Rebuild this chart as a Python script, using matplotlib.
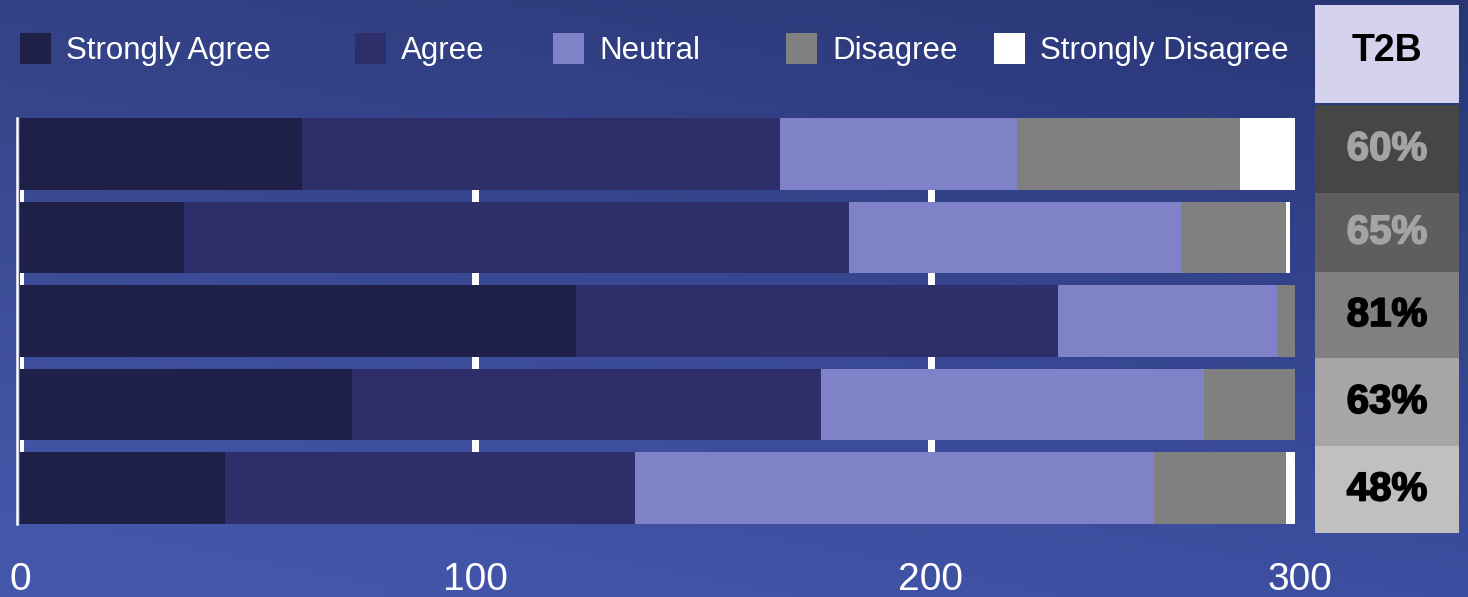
import numpy as np
import matplotlib.pyplot as plt
import matplotlib.patheffects as pe
from matplotlib.patches import Rectangle
from matplotlib.transforms import ScaledTranslation

plt.rcParams['font.family'] = ['Liberation Sans', 'DejaVu Sans']

# response counts per question (stacked left to right)
series_names = ['Strongly Agree', 'Agree', 'Neutral', 'Disagree', 'Strongly Disagree']
strongly_agree = [62, 36, 122, 73, 45]
agree = [105, 146, 106, 103, 90]
neutral = [52, 73, 48, 84, 114]
disagree = [49, 23, 4, 20, 29]
strongly_disagree = [12, 1, 0, 0, 2]
x_ticks = [0, 100, 200]
x_tick_labels = ['0', '100', '200']
x_end_label = '300'

series = [strongly_agree, agree, neutral, disagree, strongly_disagree]
colors = ['#1E2048', '#2E2F6A', '#7F82C6', '#808080', '#FFFFFF']

cell_colors = ['#464646', '#5E5E5E', '#808080', '#A6A6A6', '#C0C0C0']
cell_text_colors = ['#A4A4A4', '#A4A4A4', '#000000', '#000000', '#000000']

W, H = 1468, 597
fig = plt.figure(figsize=(W / 100, H / 100), dpi=100)

# gradient backdrop
bg = fig.add_axes([0, 0, 1, 1], zorder=0)
yy, xx = np.mgrid[0:1:200j, 0:1:400j]
top = np.array([48, 62, 126]) / 255
bottom = np.array([70, 88, 172]) / 255
t = np.clip(yy * 0.9 + (1 - xx) * 0.15, 0, 1)[..., None]
img = top * (1 - t) + bottom * t
img = img - (xx[..., None] * 0.03)
bg.imshow(np.clip(img, 0, 1), aspect='auto', extent=[0, 1, 0, 1], origin='upper')
bg.axis('off')

# stacked bars
n = len(strongly_agree)
ax = fig.add_axes([20 / W, (H - 524) / H, 1275 / W, 406 / H], zorder=1)
ax.set_facecolor('none')
rows = np.arange(n)
left = np.zeros(n)
bar_h = 0.862
for vals, col in zip(series, colors):
    ax.barh(rows, vals, left=left, height=bar_h, color=col, edgecolor='none', zorder=2)
    left += np.array(vals)
totals = left.copy()

ax.set_xlim(0, totals.max())
ax.set_ylim(n - 1 + bar_h / 2, -bar_h / 2)
ax.set_axisbelow(True)
ax.set_xticks(x_ticks)
ax.set_xticklabels(x_tick_labels)
ax.grid(axis='x', color='white', linewidth=5)
ax.set_yticks([])
ax.tick_params(axis='x', length=0, pad=27, labelsize=28, labelcolor='white')
for s in ['top', 'right', 'bottom']:
    ax.spines[s].set_visible(False)
ax.spines['left'].set_color('white')
ax.spines['left'].set_linewidth(1.8)
ax.spines['left'].set_position(('outward', 2))

# last axis label sits at the end of the bars
end_tr = ax.transData + ScaledTranslation(0, -27 / 72, fig.dpi_scale_trans)
ax.text(totals.max() + 1, n - 1 + bar_h / 2, x_end_label, ha='center', va='top',
        color='white', fontsize=28, clip_on=False, transform=end_tr)

# overlay in pixel coordinates for legend and T2B column
ov = fig.add_axes([0, 0, 1, 1], zorder=2)
ov.set_xlim(0, W)
ov.set_ylim(H, 0)
ov.axis('off')

legend_box_x = [20, 355, 553, 786, 994]
for name, col, lx in zip(series_names, colors, legend_box_x):
    ov.add_patch(Rectangle((lx, 33), 31, 31, facecolor=col, edgecolor='none'))
    ov.text(lx + 46, 51, name, color='white', fontsize=22.5, va='center', ha='left')

# T2B column
cx0, cx1 = 1315, 1459
ov.add_patch(Rectangle((cx0, 5), cx1 - cx0, 98, facecolor='#D4D2EC', edgecolor='none'))
ov.text((cx0 + cx1) / 2, 51, 'T2B', ha='center', va='center', fontsize=27,
        fontweight='bold', color='black')
row_edges = [105, 193, 272, 358, 446, 533]
for i in range(n):
    t2b = round((strongly_agree[i] + agree[i]) / totals[i] * 100)
    y0, y1 = row_edges[i], row_edges[i + 1]
    ov.add_patch(Rectangle((cx0, y0), cx1 - cx0, y1 - y0,
                           facecolor=cell_colors[i], edgecolor='none'))
    ov.text((cx0 + cx1) / 2, (y0 + y1) / 2, f'{t2b}%', ha='center', va='center',
            fontsize=29, fontweight='bold', color=cell_text_colors[i],
            path_effects=[pe.withStroke(linewidth=1.2, foreground=cell_text_colors[i])])

fig.savefig('out.png', dpi=100)
